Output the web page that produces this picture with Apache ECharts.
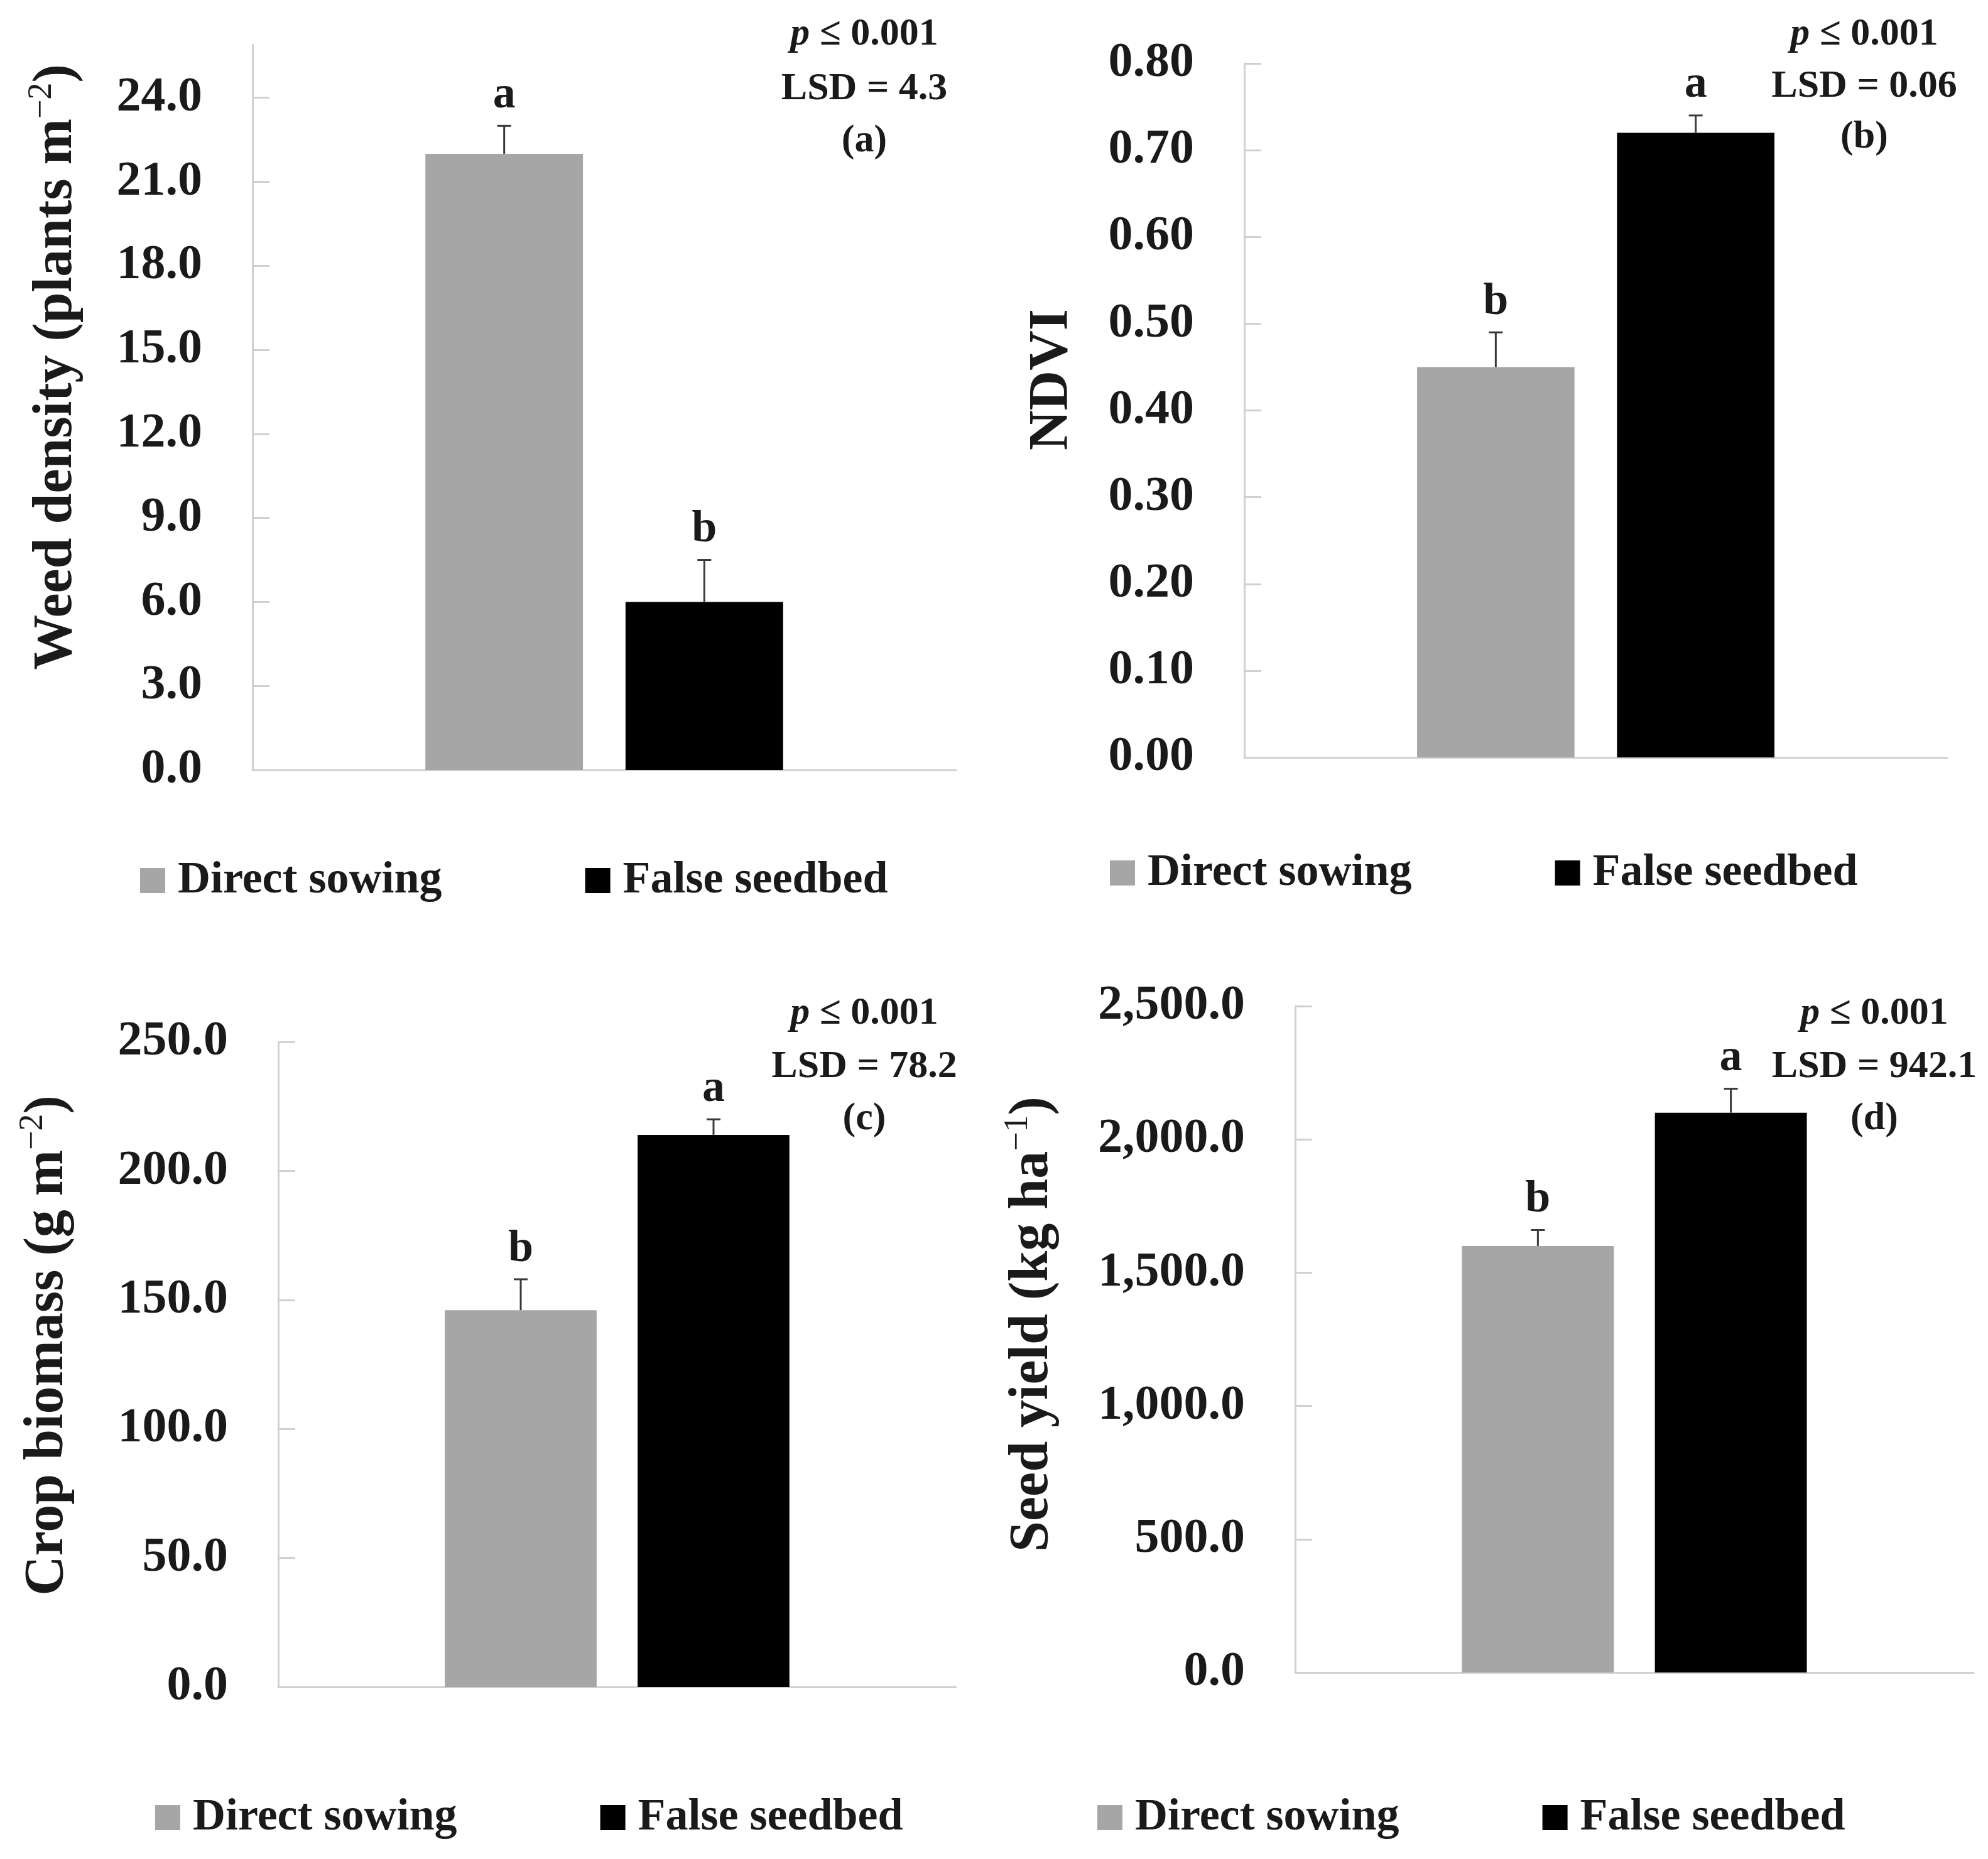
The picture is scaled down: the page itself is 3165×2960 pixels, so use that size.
<!DOCTYPE html>
<html>
<head>
<meta charset="utf-8">
<script src="https://cdn.jsdelivr.net/npm/echarts@6/dist/echarts.min.js"></script>
<style>
  html, body { margin: 0; padding: 0; background: #fff; }
  #main { width: 3165px; height: 2960px; }
</style>
</head>
<body>
<div id="main"></div>
<script>
// data
var categories = [''];
var seriesNames = ['Direct sowing', 'False seedbed'];
var barColors = ['#a6a6a6', '#000000'];

var weedMean = [22.0, 6.0];
var weedErr = [1.0, 1.5];
var weedLetters = ['a', 'b'];
var weedTicks = [0, 3, 6, 9, 12, 15, 18, 21, 24];
var weedStats = ['p ≤ 0.001', 'LSD = 4.3', '(a)'];

var ndviMean = [0.45, 0.72];
var ndviErr = [0.04, 0.02];
var ndviLetters = ['b', 'a'];
var ndviTicks = [0, 0.1, 0.2, 0.3, 0.4, 0.5, 0.6, 0.7, 0.8];
var ndviStats = ['p ≤ 0.001', 'LSD = 0.06', '(b)'];

var biomassMean = [146, 214];
var biomassErr = [12, 6];
var biomassLetters = ['b', 'a'];
var biomassTicks = [0, 50, 100, 150, 200, 250];
var biomassStats = ['p ≤ 0.001', 'LSD = 78.2', '(c)'];

var yieldMean = [1600, 2100];
var yieldErr = [60, 90];
var yieldLetters = ['b', 'a'];
var yieldTicks = [0, 500, 1000, 1500, 2000, 2500];
var yieldStats = ['p ≤ 0.001', 'LSD = 942.1', '(d)'];

var FONT = '"Liberation Serif", "Times New Roman", serif';
var AXIS_GRAY = '#d0d0d0';

function fmt1(v) { return v.toFixed(1); }
function fmt2(v) { return v.toFixed(2); }
function fmtThousands(v) {
    var s = v.toFixed(1).split('.');
    return s[0].replace(/\B(?=(\d{3})+(?!\d))/g, ',') + '.' + s[1];
}

var panels = [
    { mean: weedMean, err: weedErr, letters: weedLetters, ticks: weedTicks, stats: weedStats,
      max: 25.9, fmt: fmt1, name: ['Weed density (plants m', '−2', ')'], nameGap: 262, nameShift: 64,
      grid: { left: 402, top: 71, width: 1120, height: 1155 },
      statX: 1376, statY: [55, 142, 225], legend: { left: 218, top: 1361 } },
    { mean: ndviMean, err: ndviErr, letters: ndviLetters, ticks: ndviTicks, stats: ndviStats,
      max: 0.8, fmt: fmt2, name: ['NDVI', '', ''], nameGap: 256, nameShift: 49,
      grid: { left: 1981, top: 101, width: 1119, height: 1105 },
      statX: 2968, statY: [55, 138, 219], legend: { left: 1762, top: 1349 } },
    { mean: biomassMean, err: biomassErr, letters: biomassLetters, ticks: biomassTicks, stats: biomassStats,
      max: 250, fmt: fmt1, name: ['Crop biomass (g m', '−2', ')'], nameGap: 317, nameShift: 30,
      grid: { left: 443, top: 1659, width: 1079, height: 1027 },
      statX: 1376, statY: [1614, 1699, 1782], legend: { left: 242, top: 2853 } },
    { mean: yieldMean, err: yieldErr, letters: yieldLetters, ticks: yieldTicks, stats: yieldStats,
      max: 2500, fmt: fmtThousands, name: ['Seed yield (kg ha', '−1', ')'], nameGap: 368, nameShift: 24,
      grid: { left: 2062, top: 1602, width: 1080, height: 1061 },
      statX: 2984, statY: [1614, 1699, 1782], legend: { left: 1742, top: 2853 } }
];

var BAR_WIDTH = 0.224;
var BAR_GAP = 0.27;
var OFFSET = BAR_WIDTH * (1 + BAR_GAP) / 2;

var option = {
    backgroundColor: '#fff',
    animation: false,
    grid: [], xAxis: [], yAxis: [], series: [], legend: [], graphic: []
};

panels.forEach(function (p, k) {
    option.grid.push(p.grid);
    option.xAxis.push({
        type: 'category', gridIndex: k, data: categories,
        axisLine: { lineStyle: { color: AXIS_GRAY, width: 3 } },
        axisTick: { show: false }, axisLabel: { show: false }
    });
    option.yAxis.push({
        type: 'value', gridIndex: k, min: 0, max: p.max,
        name: '{t|' + p.name[0] + '}' + (p.name[1] ? '{s|' + p.name[1] + '}{t|' + p.name[2] + '}' : ''),
        nameLocation: 'middle', nameGap: p.nameGap,
        nameTextStyle: {
            padding: [0, 0, 0, p.nameShift * 2],
            rich: {
                t: { fontFamily: FONT, fontWeight: 'bold', fontSize: 88, color: '#1a1a1a', lineHeight: 100 },
                s: { fontFamily: FONT, fontSize: 54, color: '#1a1a1a', verticalAlign: 'top', lineHeight: 100 }
            }
        },
        splitLine: { show: false },
        axisLine: { show: true, lineStyle: { color: AXIS_GRAY, width: 3 } },
        axisTick: { show: true, inside: true, length: 27, customValues: p.ticks,
                    lineStyle: { color: AXIS_GRAY, width: 3 } },
        axisLabel: { customValues: p.ticks, formatter: p.fmt, margin: 80,
                     fontFamily: FONT, fontWeight: 'bold', fontSize: 78, color: '#1a1a1a' }
    });

    seriesNames.forEach(function (nm, i) {
        option.series.push({
            name: nm, type: 'bar', xAxisIndex: k, yAxisIndex: k,
            data: [p.mean[i]],
            barWidth: (BAR_WIDTH * 100) + '%', barGap: (BAR_GAP * 100) + '%',
            itemStyle: { color: barColors[i] }
        });
    });

    // error bars + significance letters
    option.series.push({
        name: 'err' + k, type: 'custom', xAxisIndex: k, yAxisIndex: k, z: 5,
        data: p.mean.map(function (m, i) { return [0, m, p.err[i], i]; }),
        encode: { x: 0, y: 1 },
        renderItem: function (params, api) {
            var idx = api.value(3);
            var base = api.coord([api.value(0), api.value(1)]);
            var top = api.coord([api.value(0), api.value(1) + api.value(2)]);
            var band = api.size([1, 0])[0];
            var x = base[0] + (idx === 0 ? -1 : 1) * band * OFFSET;
            var ls = { stroke: '#3a3a3a', lineWidth: 3 };
            return {
                type: 'group',
                children: [
                    { type: 'line', shape: { x1: x, y1: base[1], x2: x, y2: top[1] }, style: ls },
                    { type: 'line', shape: { x1: x - 11, y1: top[1], x2: x + 11, y2: top[1] }, style: ls },
                    { type: 'text', x: x, y: top[1] - 12,
                      style: { text: p.letters[params.dataIndex], align: 'center', verticalAlign: 'bottom',
                               fontFamily: FONT, fontWeight: 'bold', fontSize: 72, fill: '#1a1a1a' } }
                ]
            };
        }
    });

    option.legend.push({
        data: seriesNames, left: p.legend.left, top: p.legend.top, orient: 'horizontal',
        selectedMode: false, icon: 'rect', itemWidth: 40, itemHeight: 40, itemGap: 228,
        textStyle: { fontFamily: FONT, fontWeight: 'bold', fontSize: 72, color: '#1a1a1a',
                     padding: [0, 0, 0, 15] }
    });

    p.stats.forEach(function (s, j) {
        var txt = j === 0 ? '{i|p}{n|' + s.slice(1) + '}' : '{n|' + s + '}';
        option.graphic.push({
            type: 'text', x: p.statX, y: p.statY[j],
            style: {
                text: txt, align: 'center', verticalAlign: 'middle',
                fontFamily: FONT, fontWeight: 'bold', fontSize: 62, fill: '#1a1a1a',
                rich: {
                    i: { fontFamily: FONT, fontStyle: 'italic', fontWeight: 'bold', fontSize: 62, fill: '#1a1a1a' },
                    n: { fontFamily: FONT, fontWeight: 'bold', fontSize: 62, fill: '#1a1a1a' }
                }
            }
        });
    });
});

var myChart = echarts.init(document.getElementById('main'));
myChart.setOption(option);
</script>
</body>
</html>
